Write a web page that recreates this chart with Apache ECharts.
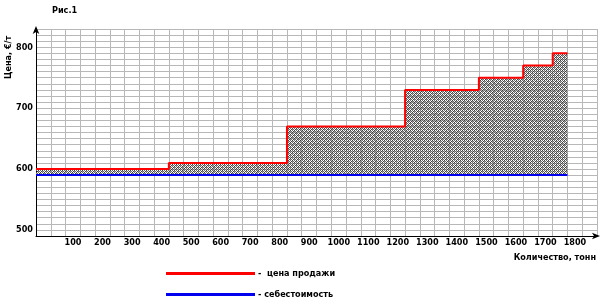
<!DOCTYPE html>
<html>
<head>
<meta charset="utf-8">
<script src="https://cdn.jsdelivr.net/npm/echarts@6/dist/echarts.min.js"></script>
<style>html,body{margin:0;padding:0;background:#fff}#c{width:600px;height:307px}</style>
</head>
<body>
<div id="c"></div>
<script>
// Quantity breakpoints (tonnes) where the selling price changes
var breaks = [0, 450, 850, 1250, 1500, 1650, 1750, 1800];
// Selling price from each breakpoint (€/t)
var prices = [600, 610, 670, 730, 750, 770, 790, 790];
// Cost line
var costX = [0, 1800];
var costY = [590, 590];
// Axis tick labels
var xTickLabels = [100, 200, 300, 400, 500, 600, 700, 800, 900, 1000, 1100, 1200, 1300, 1400, 1500, 1600, 1700, 1800];
var yTickLabels = [500, 600, 700, 800];
var seriesNames = ['цена продажи', 'себестоимость'];

var FONT = "'Liberation Sans Narrow', 'DejaVu Sans Condensed', 'Liberation Sans', Arial, sans-serif";

// hatch pattern
var pc = document.createElement('canvas');
pc.width = 4; pc.height = 4;
var pctx = pc.getContext('2d');
for (var px = 0; px < 4; px++) {
  for (var py = 0; py < 4; py++) {
    var s = (px + py) % 4;
    if (s === 0) { pctx.fillStyle = '#404040'; pctx.fillRect(px, py, 1, 1); }
    else if (s === 2) { pctx.fillStyle = '#6a6a6a'; pctx.fillRect(px, py, 1, 1); }
    else if (s === 1 && px % 2 === 0) { pctx.fillStyle = '#999999'; pctx.fillRect(px, py, 1, 1); }
  }
}

var priceData = breaks.map(function (b, i) { return [b, prices[i]]; });
var costData = costX.map(function (b, i) { return [b, costY[i]]; });

var chart = echarts.init(document.getElementById('c'), null, {renderer: 'canvas'});
chart.setOption({
  animation: false,
  backgroundColor: '#fff',
  grid: {left: 36, top: 29, width: 561, height: 207, containLabel: false},
  xAxis: {
    type: 'value', min: 0, max: 1900, interval: 50,
    axisLine: {show: true, lineStyle: {color: '#000', width: 1}, symbol: ['none', 'arrow'], symbolSize: [5, 8], symbolOffset: [0, 3]},
    axisTick: {show: false},
    splitLine: {show: true, lineStyle: {color: '#b8b8b8', width: 1}},
    axisLabel: {
      margin: 2, padding: [0, 0, 0, 15], color: '#000', fontWeight: 'bold', fontSize: 9, fontFamily: FONT,
      formatter: function (v) { return xTickLabels.indexOf(v) >= 0 ? String(v) : ''; }
    }
  },
  yAxis: {
    type: 'value', min: 490, max: 830, interval: 10,
    axisLine: {show: true, lineStyle: {color: '#000', width: 1}, symbol: ['none', 'arrow'], symbolSize: [5, 8], symbolOffset: [0, 3]},
    axisTick: {show: false},
    splitLine: {show: true, lineStyle: {color: '#b8b8b8', width: 1}},
    axisLabel: {
      margin: 3, color: '#000', fontWeight: 'bold', fontSize: 9, fontFamily: FONT,
      formatter: function (v) { return yTickLabels.indexOf(v) >= 0 ? String(v) : ''; }
    }
  },
  legend: {
    data: seriesNames, orient: 'vertical', left: 166, top: 269, padding: 0, itemWidth: 89, itemHeight: 3,
    itemGap: 12, icon: 'rect', selectedMode: false,
    formatter: function (n) { return n === seriesNames[0] ? '-  ' + n : '- ' + n; },
    textStyle: {color: '#000', fontWeight: 'bold', fontSize: 9, fontFamily: FONT, padding: [0, 0, 0, -2]}
  },
  graphic: [
    {type: 'text', left: 52, top: 6, style: {text: 'Рис.1', font: 'bold 9px ' + FONT, fill: '#000'}},
    {type: 'text', x: 4, y: 79, rotation: Math.PI / 2, style: {text: 'Цена, €/т', font: 'bold 9px ' + FONT, fill: '#000'}},
    {type: 'text', right: 4, top: 253, style: {text: 'Количество, тонн', font: 'bold 9px ' + FONT, fill: '#000'}}
  ],
  series: [
    {
      name: 'hatch', type: 'line', step: 'end', data: priceData, symbol: 'none', silent: true,
      lineStyle: {width: 0, opacity: 0}, areaStyle: {origin: 590, color: {image: pc, repeat: 'repeat'}, opacity: 1},
      z: 1
    },
    {
      name: seriesNames[0], type: 'line', step: 'end', data: priceData, symbol: 'none',
      lineStyle: {color: '#ff0000', width: 2}, itemStyle: {color: '#ff0000'}, z: 3
    },
    {
      name: seriesNames[1], type: 'line', data: costData, symbol: 'none',
      lineStyle: {color: '#0000ee', width: 2}, itemStyle: {color: '#0000ee'}, z: 3
    }
  ]
});
</script>
</body>
</html>
